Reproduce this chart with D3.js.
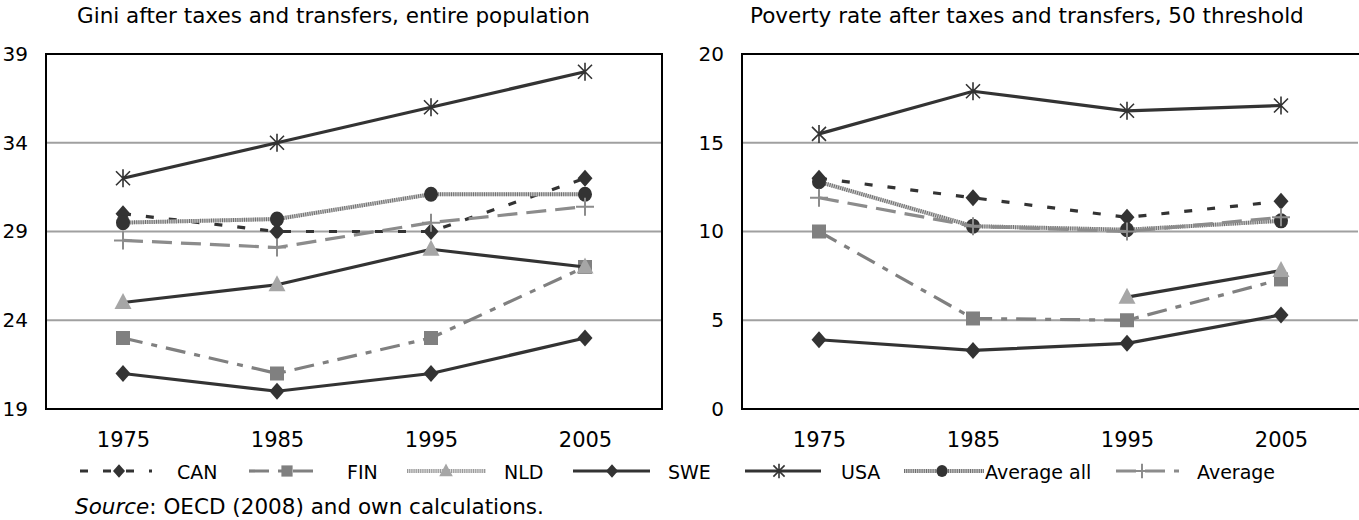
<!DOCTYPE html>
<html><head><meta charset="utf-8">
<script src="https://cdn.jsdelivr.net/npm/d3@7"></script>
<style>
html,body{margin:0;padding:0;background:#fff;}
svg{display:block;font-family:"DejaVu Sans",Verdana,sans-serif;}
</style></head>
<body><svg id="c" width="1359" height="520"></svg>
<script>
const years = ["1975","1985","1995","2005"];
const seriesNames = ["CAN","FIN","NLD","SWE","USA","Average all","Average"];

// Left panel: Gini after taxes and transfers
const giniCAN = [30.0, 29.0, 29.0, 32.0];
const giniFIN = [23.0, 21.0, 23.0, 27.0];
const giniNLD = [25.0, 26.0, 28.0, 27.0];
const giniSWE = [21.0, 20.0, 21.0, 23.0];
const giniUSA = [32.0, 34.0, 36.0, 38.0];
const giniAvgAll = [29.5, 29.7, 31.1, 31.1];
const giniAvg = [28.5, 28.1, 29.5, 30.4];
const giniTicks = [19, 24, 29, 34, 39];

// Right panel: Poverty rate after taxes and transfers
const povCAN = [13.0, 11.9, 10.8, 11.7];
const povFIN = [10.0, 5.1, 5.0, 7.3];
const povNLD = [null, null, 6.3, 7.8];
const povSWE = [3.9, 3.3, 3.7, 5.3];
const povUSA = [15.5, 17.9, 16.8, 17.1];
const povAvgAll = [12.8, 10.3, 10.1, 10.6];
const povAvg = [11.9, 10.3, 10.0, 10.8];
const povTicks = [0, 5, 10, 15, 20];

const DARK = "#333333", GRAY = "#808080", LGRAY = "#a6a6a6", AGRAY = "#8c8c8c";

const styles = {
  "CAN": {stroke: DARK, dash: "8,15", marker: "diamond", fill: DARK},
  "FIN": {stroke: GRAY, dash: "20,9,6,9", marker: "square", fill: GRAY},
  "NLD": {stroke: DARK, dash: null, marker: "triangle", fill: LGRAY, legendHatch: ["#d9d9d9", "#999999"]},
  "SWE": {stroke: DARK, dash: null, marker: "diamond", fill: DARK},
  "USA": {stroke: DARK, dash: null, marker: "asterisk", fill: DARK},
  "Average all": {stroke: null, hatch: ["#c8c8c8", "#6e6e6e"], marker: "circle", fill: DARK},
  "Average": {stroke: AGRAY, dash: "20,9", marker: "plus", fill: AGRAY}
};

const svg = d3.select("#c");

function drawMarker(g, type, x, y, fill, s) {
  s = s || 1;
  if (type === "diamond") {
    g.append("path").attr("d", `M${x},${y-8.5*s}L${x+7.5*s},${y}L${x},${y+8.5*s}L${x-7.5*s},${y}Z`).attr("fill", fill);
  } else if (type === "square") {
    g.append("rect").attr("x", x-7*s).attr("y", y-7*s).attr("width", 14*s).attr("height", 14*s).attr("fill", fill);
  } else if (type === "triangle") {
    g.append("path").attr("d", `M${x},${y-9.5*s}L${x+8.5*s},${y+6.5*s}L${x-8.5*s},${y+6.5*s}Z`).attr("fill", fill);
  } else if (type === "circle") {
    g.append("ellipse").attr("cx", x).attr("cy", y).attr("rx", 7*s).attr("ry", 7.5*s).attr("fill", fill);
  } else if (type === "asterisk") {
    const p = `M${x},${y-9*s}L${x},${y+9*s}M${x-7*s},${y-7*s}L${x+7*s},${y+7*s}M${x-7*s},${y+7*s}L${x+7*s},${y-7*s}`;
    g.append("path").attr("d", p).attr("stroke", fill).attr("stroke-width", 1.6).attr("fill", "none");
  } else if (type === "plus") {
    const p = `M${x},${y-9*s}L${x},${y+9*s}M${x-9*s},${y}L${x+9*s},${y}`;
    g.append("path").attr("d", p).attr("stroke", fill).attr("stroke-width", 2).attr("fill", "none");
  }
}

function strokeLine(g, d, st) {
  if (st.hatch) {
    g.append("path").attr("d", d).attr("fill", "none").attr("stroke", st.hatch[0]).attr("stroke-width", 4);
    g.append("path").attr("d", d).attr("fill", "none").attr("stroke", st.hatch[1]).attr("stroke-width", 4).attr("stroke-dasharray", "1,1.2");
  } else {
    const p = g.append("path").attr("d", d).attr("fill", "none").attr("stroke", st.stroke).attr("stroke-width", 3.2);
    if (st.dash) p.attr("stroke-dasharray", st.dash);
  }
}

function panel(opts) {
  const {x0, x1, y0, y1, ticks, data, title, titleX, showRight} = opts;
  const g = svg.append("g");
  const x = d3.scalePoint().domain(years).range([x0, x1]).padding(0.5);
  const y = d3.scaleLinear().domain([ticks[0], ticks[ticks.length-1]]).range([y1, y0]);

  g.append("g").selectAll("line").data(ticks.slice(1, -1)).join("line")
    .attr("x1", x0).attr("x2", x1).attr("y1", d => y(d)).attr("y2", d => y(d))
    .attr("stroke", "#a0a0a0").attr("stroke-width", 2);

  const ya = g.append("g").attr("transform", `translate(${x0 - 18},0)`)
    .call(d3.axisLeft(y).tickValues(ticks).tickSize(0).tickPadding(0));
  ya.select(".domain").remove();
  ya.selectAll("text").attr("font-size", 20).attr("fill", "#000").attr("font-family", "DejaVu Sans");

  const xa = g.append("g").attr("transform", `translate(0,${y1 + 23})`)
    .call(d3.axisBottom(x).tickSize(0).tickPadding(0));
  xa.select(".domain").remove();
  xa.selectAll("text").attr("font-size", 21).attr("fill", "#000").attr("font-family", "DejaVu Sans");

  g.append("path").attr("d", showRight ? `M${x0},${y0}H${x1}V${y1}H${x0}Z` : `M${x1+2},${y0}H${x0}V${y1}H${x1+2}`)
    .attr("fill", "none").attr("stroke", "#000").attr("stroke-width", 2);

  g.append("text").attr("x", titleX).attr("y", 23).attr("font-size", 21.5).attr("fill", "#000").text(title);

  data.forEach((vals, i) => {
    const name = seriesNames[i];
    const st = styles[name];
    const pts = years.map((yr, j) => ({yr, v: vals[j]}));
    const line = d3.line().defined(d => d.v != null).x(d => x(d.yr)).y(d => y(d.v));
    const sg = g.append("g");
    strokeLine(sg, line(pts), st);
    pts.filter(d => d.v != null).forEach(d => drawMarker(sg, st.marker, x(d.yr), y(d.v), st.fill));
  });
}

panel({x0: 46, x1: 662, y0: 54, y1: 409, ticks: giniTicks,
  data: [giniCAN, giniFIN, giniNLD, giniSWE, giniUSA, giniAvgAll, giniAvg],
  title: "Gini after taxes and transfers, entire population", titleX: 77, showRight: true});
panel({x0: 742, x1: 1358, y0: 54, y1: 409, ticks: povTicks,
  data: [povCAN, povFIN, povNLD, povSWE, povUSA, povAvgAll, povAvg],
  title: "Poverty rate after taxes and transfers, 50 threshold", titleX: 750, showRight: false});

// legend
const legendPos = [
  {name: "CAN", lx: 80, lw: 72, mx: 119, tx: 177},
  {name: "FIN", lx: 249, lw: 69, mx: 287, tx: 347},
  {name: "NLD", lx: 407, lw: 79, mx: 446, tx: 504},
  {name: "SWE", lx: 573, lw: 77, mx: 612, tx: 668},
  {name: "USA", lx: 745, lw: 76, mx: 779, tx: 841},
  {name: "Average all", lx: 904, lw: 80, mx: 942, tx: 985},
  {name: "Average", lx: 1116, lw: 63, mx: 1142, tx: 1197}
];
const lg = svg.append("g");
const ly = 471;
legendPos.forEach(p => {
  const st = styles[p.name];
  const g = lg.append("g");
  let lst = st;
  if (st.legendHatch) lst = {hatch: st.legendHatch};
  strokeLine(g, `M${p.lx},${ly}H${p.lx + p.lw}`, lst);
  drawMarker(g, st.marker, p.mx, ly, st.fill, 0.8);
  g.append("text").attr("x", p.tx).attr("y", ly + 8).attr("font-size", 19).attr("fill", "#000").text(p.name);
});

const src = svg.append("text").attr("x", 75).attr("y", 514).attr("font-size", 21.5).attr("fill", "#000");
src.append("tspan").attr("font-style", "italic").text("Source");
src.append("tspan").text(": OECD (2008) and own calculations.");
</script>
</body></html>
